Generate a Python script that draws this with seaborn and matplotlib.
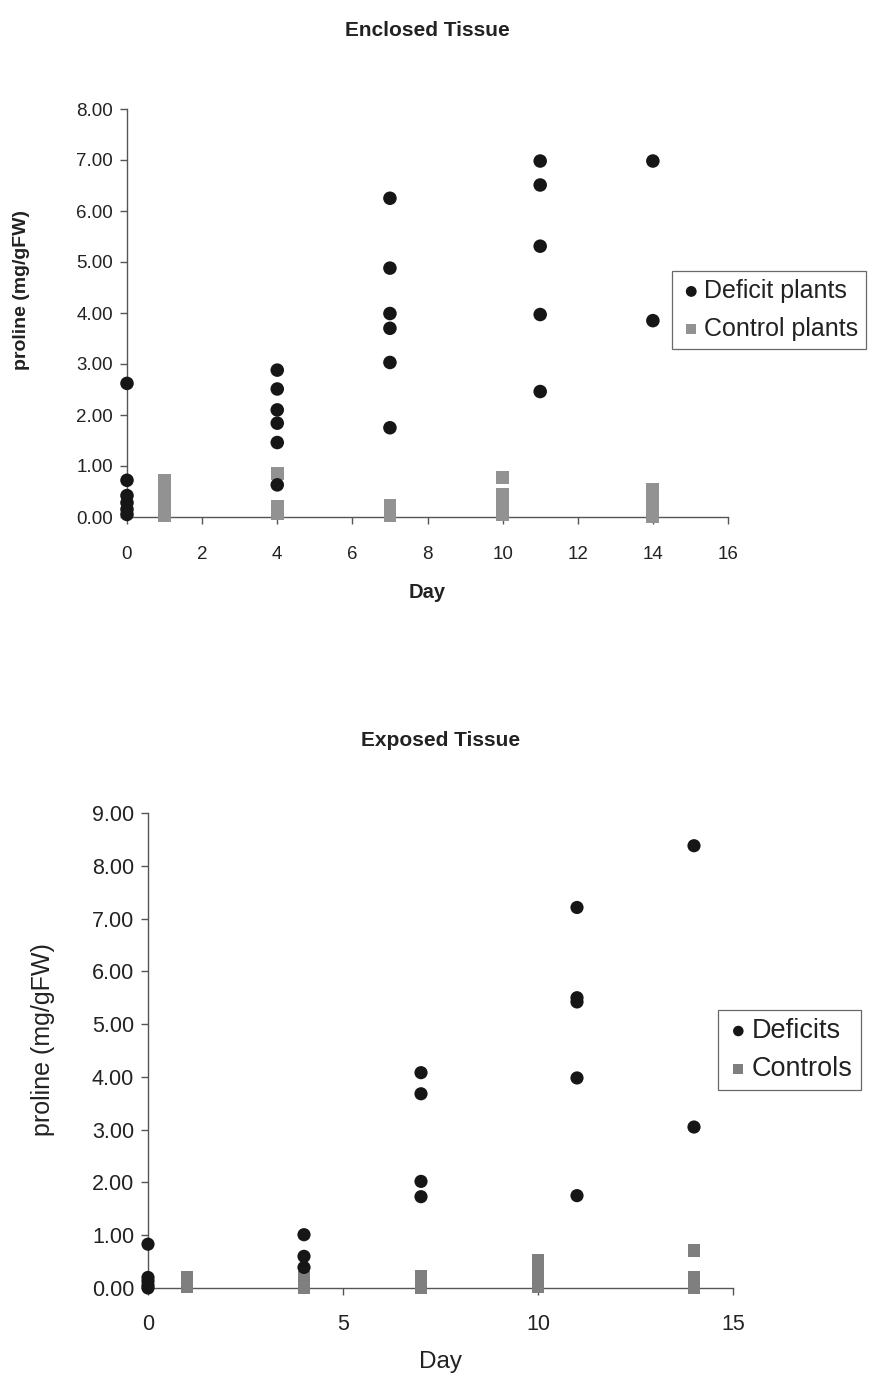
import matplotlib
matplotlib.use("Agg")
import matplotlib.pyplot as plt
import seaborn as sns
import pandas as pd

# ---------------- Data ----------------
# Enclosed tissue
enc_def_day = [0, 0, 0, 0, 0, 0,
               4, 4, 4, 4, 4, 4,
               7, 7, 7, 7, 7, 7,
               11, 11, 11, 11, 11,
               14, 14]
enc_def_val = [2.62, 0.72, 0.42, 0.28, 0.15, 0.05,
               2.88, 2.51, 2.10, 1.84, 1.46, 0.63,
               6.25, 4.88, 3.99, 3.70, 3.03, 1.75,
               6.98, 6.51, 5.31, 3.97, 2.46,
               6.98, 3.85]
enc_ctl_day = [1, 1, 1, 1, 1, 1,
               4, 4, 4,
               7, 7, 7,
               10, 10, 10, 10, 10,
               14, 14, 14, 14, 14]
enc_ctl_val = [0.72, 0.52, 0.40, 0.28, 0.15, 0.03,
               0.86, 0.20, 0.06,
               0.22, 0.10, 0.02,
               0.78, 0.45, 0.30, 0.15, 0.04,
               0.55, 0.40, 0.25, 0.12, 0.01]

# Exposed tissue
exp_def_day = [0, 0, 0, 0, 0,
               4, 4, 4,
               7, 7, 7, 7,
               11, 11, 11, 11, 11,
               14, 14]
exp_def_val = [0.83, 0.20, 0.13, 0.05, 0.00,
               1.01, 0.60, 0.39,
               4.08, 3.68, 2.02, 1.73,
               7.21, 5.50, 5.42, 3.98, 1.75,
               8.38, 3.05]
exp_ctl_day = [1, 1, 1,
               4, 4, 4,
               7, 7, 7,
               10, 10, 10, 10, 10,
               14, 14, 14, 14]
exp_ctl_val = [0.20, 0.10, 0.02,
               0.20, 0.10, 0.00,
               0.22, 0.10, 0.00,
               0.52, 0.40, 0.28, 0.15, 0.03,
               0.71, 0.20, 0.10, 0.00]

enc_xticks = [0, 2, 4, 6, 8, 10, 12, 14, 16]
enc_yticks = [0, 1, 2, 3, 4, 5, 6, 7, 8]
exp_xticks = [0, 5, 10, 15]
exp_yticks = [0, 1, 2, 3, 4, 5, 6, 7, 8, 9]

# ---------------- Style ----------------
sns.set_theme(style="white")
plt.rcParams["font.family"] = ["Liberation Sans", "DejaVu Sans"]

W, H = 869, 1380
fig = plt.figure(figsize=(W / 100, H / 100), dpi=100)

def axes_px(left, top, right, bottom):
    return fig.add_axes([left / W, 1 - bottom / H, (right - left) / W, (bottom - top) / H])

ax1 = axes_px(127, 109, 728, 517)
ax2 = axes_px(148, 813, 733, 1288)

BLACK = "#161616"
GRAY1 = "#929292"
GRAY2 = "#7f7f7f"
TXT = "#222222"

def style_axes(ax, xlim, ylim, xticks, yticks, fs, xpad):
    ax.set_xlim(*xlim)
    ax.set_ylim(*ylim)
    ax.set_xticks(xticks)
    ax.set_yticks(yticks)
    ax.set_yticklabels([f"{v:.2f}" for v in yticks])
    ax.set_xticklabels([f"{v:d}" for v in xticks])
    for s in ["top", "right"]:
        ax.spines[s].set_visible(False)
    for s in ["left", "bottom"]:
        ax.spines[s].set_color("#555555")
        ax.spines[s].set_linewidth(1.0)
    ax.tick_params(axis="both", which="major", direction="out", length=5,
                   width=1.0, color="#555555", labelsize=fs,
                   labelcolor=TXT, left=True, bottom=True)
    ax.tick_params(axis="x", pad=xpad)
    ax.tick_params(axis="y", pad=5)
    ax.set_facecolor("white")

def style_legend(leg):
    leg.get_frame().set_edgecolor("#444444")
    leg.get_frame().set_linewidth(0.9)
    for t in leg.get_texts():
        t.set_color(TXT)

# ---------- Top chart ----------
df1d = pd.DataFrame({"Day": enc_def_day, "v": enc_def_val})
df1c = pd.DataFrame({"Day": enc_ctl_day, "v": enc_ctl_val})
sns.scatterplot(data=df1c, x="Day", y="v", ax=ax1, marker="s", s=85,
                color=GRAY1, edgecolor="none", clip_on=False, zorder=3,
                label="Control plants")
sns.scatterplot(data=df1d, x="Day", y="v", ax=ax1, marker="o", s=95,
                color=BLACK, edgecolor="none", clip_on=False, zorder=4,
                label="Deficit plants")
style_axes(ax1, (0, 16), (0, 8), enc_xticks, enc_yticks, 13.5, 16)
ax1.set_title("Enclosed Tissue", fontsize=15, fontweight="bold", pad=0,
              y=(517 - 36) / 408, color=TXT)
ax1.set_xlabel("Day", fontsize=14.5, fontweight="bold", color=TXT)
ax1.xaxis.set_label_coords(0.5, -(592 - 517) / 408)
ax1.xaxis.label.set_va("center")
ax1.set_ylabel("proline (mg/gFW)", fontsize=14, fontweight="bold", color=TXT)
ax1.yaxis.set_label_coords(-(127 - 22) / 601, (517 - 290) / 408)
ax1.yaxis.label.set_va("center")
h, l = ax1.get_legend_handles_labels()
leg1 = ax1.legend(h[::-1], l[::-1], loc="upper left",
                  bbox_to_anchor=((672 - 127) / 601, (517 - 271) / 408),
                  frameon=True, fancybox=False, shadow=False, fontsize=18,
                  handletextpad=0.05, handlelength=0.9, borderpad=0.32,
                  labelspacing=0.55, markerscale=0.8, borderaxespad=0)
style_legend(leg1)

# ---------- Bottom chart ----------
df2d = pd.DataFrame({"Day": exp_def_day, "v": exp_def_val})
df2c = pd.DataFrame({"Day": exp_ctl_day, "v": exp_ctl_val})
sns.scatterplot(data=df2c, x="Day", y="v", ax=ax2, marker="s", s=80,
                color=GRAY2, edgecolor="none", clip_on=False, zorder=3,
                label="Controls")
sns.scatterplot(data=df2d, x="Day", y="v", ax=ax2, marker="o", s=90,
                color=BLACK, edgecolor="none", clip_on=False, zorder=4,
                label="Deficits")
style_axes(ax2, (0, 15), (0, 9), exp_xticks, exp_yticks, 15.5, 14)
ax2.set_title("Exposed Tissue", fontsize=15, fontweight="bold", pad=0,
              y=(1288 - 746) / 475, color=TXT)
ax2.set_xlabel("Day", fontsize=17.5, color=TXT)
ax2.xaxis.set_label_coords(0.5, -(1362 - 1288) / 475)
ax2.xaxis.label.set_va("center")
ax2.set_ylabel("proline (mg/gFW)", fontsize=18, color=TXT)
ax2.yaxis.set_label_coords(-(148 - 43) / 585, (1288 - 1040) / 475)
ax2.yaxis.label.set_va("center")
h, l = ax2.get_legend_handles_labels()
leg2 = ax2.legend(h[::-1], l[::-1], loc="upper left",
                  bbox_to_anchor=((718 - 148) / 585, (1288 - 1010) / 475),
                  frameon=True, fancybox=False, shadow=False, fontsize=19.5,
                  handletextpad=0.05, handlelength=0.9, borderpad=0.3,
                  labelspacing=0.45, markerscale=0.8, borderaxespad=0)
style_legend(leg2)

fig.savefig("out.png", dpi=100, facecolor="white")
